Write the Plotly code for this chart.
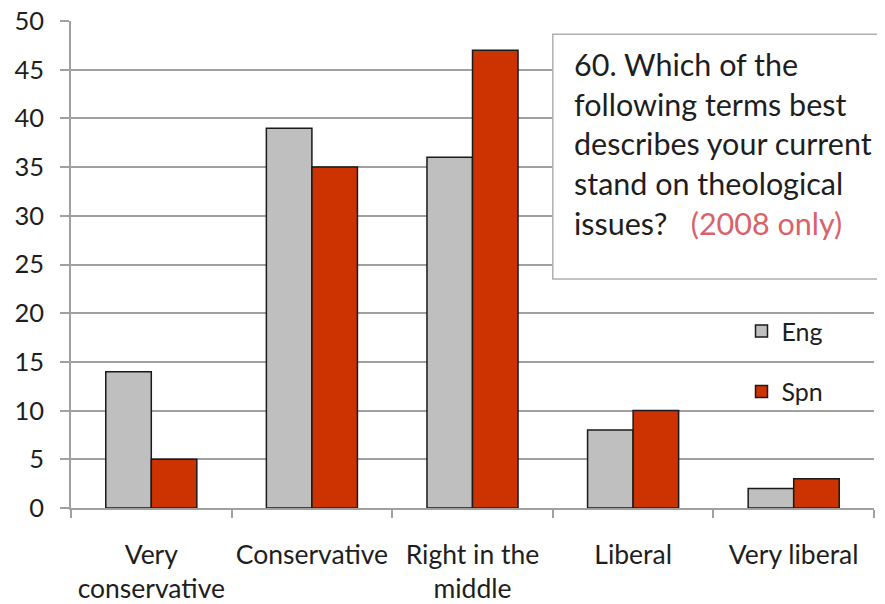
import plotly.graph_objects as go

categories = ["Very<br>conservative", "Conservative", "Right in the<br>middle", "Liberal", "Very liberal"]
eng = [14, 39, 36, 8, 2]
spn = [5, 35, 47, 10, 3]
y_ticks = [0, 5, 10, 15, 20, 25, 30, 35, 40, 45, 50]

FONT = "Lato"
TXT = "#1e1e1e"
GRID = "#A0A0A0"

fig = go.Figure()
fig.add_trace(go.Bar(name="Eng", x=categories, y=eng, marker=dict(color="#BFBFBF", line=dict(color="#1a1a1a", width=1.5)), legendgroup="a"))
fig.add_trace(go.Bar(name="Spn", x=categories, y=spn, marker=dict(color="#CC3300", line=dict(color="#1a1a1a", width=1.5)), legendgroup="b"))

# page body has an 8px margin: the figure is sized/offset to compensate
fig.update_layout(
    width=877, height=596,
    margin=dict(l=63, r=11, t=13, b=96),
    paper_bgcolor="white", plot_bgcolor="white",
    barmode="group", bargap=0.433, bargroupgap=0,
    font=dict(family=FONT, size=24, color=TXT),
    showlegend=True,
    legend=dict(x=0.835, y=0.41, xanchor="left", yanchor="top", bgcolor="rgba(0,0,0,0)",
                font=dict(size=25, color=TXT), tracegroupgap=25, traceorder="grouped"),
    xaxis=dict(showline=True, linecolor=GRID, linewidth=1.5, ticks="outside", tickson="boundaries",
               ticklen=8, tickcolor=GRID, tickwidth=1.5, showgrid=False, automargin=False,
               tickangle=0, ticklabeloverflow="allow",
               tickfont=dict(family=FONT, size=26.5, color=TXT), ticklabelstandoff=22),
    yaxis=dict(range=[0, 50], tickvals=y_ticks, showline=True, linecolor=GRID, linewidth=1.5,
               ticks="outside", ticklen=9, tickcolor=GRID, tickwidth=1.5, automargin=False,
               ticklabeloverflow="allow",
               showgrid=True, gridcolor=GRID, gridwidth=1.5, zeroline=False,
               tickfont=dict(family=FONT, size=25.5, color=TXT), ticklabelstandoff=11),
)

fig.add_shape(type="rect", xref="paper", yref="paper", x0=0.600, x1=1.010, y0=0.470, y1=0.973,
              line=dict(color="#B0B0B0", width=1.5), fillcolor="white", layer="above")
fig.add_annotation(xref="paper", yref="paper", x=0.624, y=0.952, xanchor="left", yanchor="top",
                   align="left", showarrow=False,
                   text="60. Which of the<br>following terms best<br>describes your current<br>stand on theological<br>issues?   <span style='color:#D9626A'>(2008 only)</span>",
                   font=dict(family=FONT, size=30.5, color=TXT))

fig.write_html("out.html")
